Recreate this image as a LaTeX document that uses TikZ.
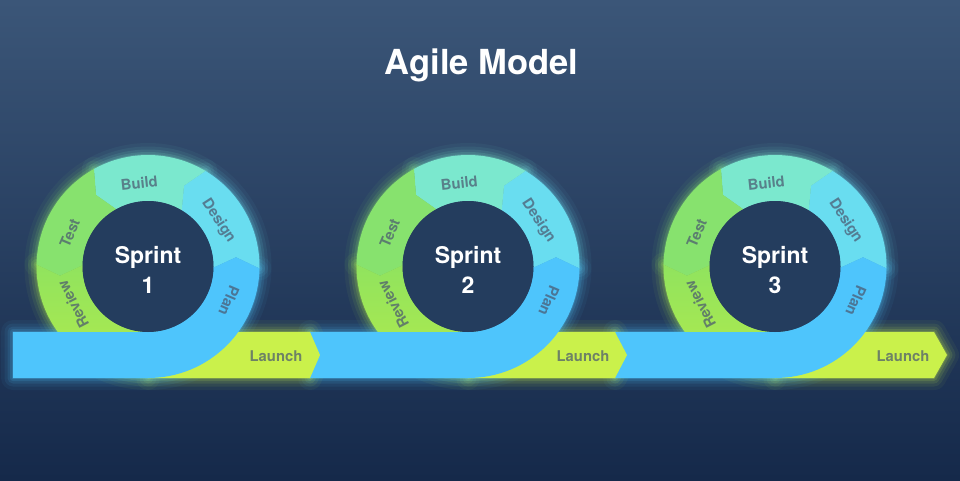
\documentclass[tikz,border=0pt]{standalone}
\usepackage{fontspec}
\setmainfont{TeX Gyre Heros}
\pgfdeclarelayer{bg}
\pgfdeclarelayer{glowlayer}
\pgfsetlayers{bg,glowlayer,main}
\definecolor{bgtop}{HTML}{3B5678}
\definecolor{bgbot}{HTML}{15294A}
\definecolor{buildc}{HTML}{7BE8CE}
\definecolor{designc}{HTML}{69DDF0}
\definecolor{planc}{HTML}{4EC5FC}
\definecolor{testc}{HTML}{87E26E}
\definecolor{reviewtop}{HTML}{90E35E}
\definecolor{reviewbot}{HTML}{B2EB4C}
\definecolor{launchc}{HTML}{CAF14B}
\definecolor{innerc}{HTML}{243D5E}
\definecolor{labc}{RGB}{75,88,112}
\tikzset{
  titletext/.style={font=\bfseries\fontsize{34.5}{40}\selectfont, text=white, inner sep=0, anchor=base},
  sprinttext/.style={font=\bfseries\fontsize{23}{28}\selectfont, text=white, inner sep=0, anchor=base},
  lab/.style={font=\bfseries\fontsize{14.8}{18}\selectfont, text=labc, text opacity=0.72, inner sep=0},
}
% ring segment from angle #1 to #2 with a tip at the leading edge and a notch at the trailing edge
\newcommand\segpath[2]{([shift={(#1:111.5)}]C) arc[start angle=#1, end angle=#2, radius=111.5] -- ([shift={(#2+7:88.5)}]C) -- ([shift={(#2:65.5)}]C) arc[start angle=#2, end angle=#1, radius=65.5] -- ([shift={(#1+7:88.5)}]C) -- cycle}
\newcommand\reviewpath{([shift={(179:111.5)}]C) arc[start angle=179, end angle=270, radius=111.5] -- ([shift={(270:65.5)}]C) arc[start angle=270, end angle=179, radius=65.5] -- ([shift={(186:88.5)}]C) -- cycle}
\newcommand\planpath[2]{(#1,148) -- (#2,148) arc[start angle=-90, end angle=-1, radius=65.5] -- ([shift={(6:88.5)}]C) -- ([shift={(-1:111.5)}]C) arc[start angle=-1, end angle=-90, radius=111.5] -- (#1,102) -- cycle}
\newcommand\launchpath[3]{(#1,148) -- (#2,148) -- (#3,125) -- (#2,102) -- (#1,102) -- cycle}
\newcommand\glowdraw[2]{\foreach \gw/\go in {24/0.05,17/0.08,11/0.11,6/0.15,2/0.2}{\draw[draw=#1, line width=\gw pt, draw opacity=\go, line join=round] #2;}}
\begin{document}
\begin{tikzpicture}[x=1pt,y=1pt]
\begin{pgfonlayer}{bg}
  \shade[top color=bgtop, bottom color=bgbot] (0,0) rectangle (960,480);
\end{pgfonlayer}
\useasboundingbox (0,0) rectangle (960,480);
\node[titletext] (title) at (481.5,405.7) {Agile Model};
\foreach \cx/\xs/\xt/\tip/\n in {775/615/934/947/3, 468/310/615/627/2, 148/13/310/320/1} {
  \coordinate (C) at (\cx,213.5);
  \begin{pgfonlayer}{glowlayer}
    \glowdraw{designc}{\segpath{-1}{59}}
    \glowdraw{buildc}{\segpath{59}{119}}
    \glowdraw{testc}{\segpath{119}{179}}
    \glowdraw{reviewbot}{\reviewpath}
    \glowdraw{launchc}{\launchpath{\cx}{\xt}{\tip}}
    \glowdraw{planc}{\planpath{\xs}{\cx}}
  \end{pgfonlayer}
  \fill[designc] \segpath{-1}{59};
  \fill[buildc] \segpath{59}{119};
  \fill[testc] \segpath{119}{179};
  \shade[top color=reviewtop, bottom color=reviewbot] \reviewpath;
  \fill[launchc] \launchpath{\cx}{\xt}{\tip};
  \fill[planc] \planpath{\xs}{\cx};
  \fill[innerc] (C) circle[radius=65.5];
  \node[sprinttext] (sp\n) at (\cx,217) {Sprint};
  \node[sprinttext] (num\n) at (\cx,187) {\n};
  \node[lab, rotate=6] (build\n) at ([shift={(96:84)}]C) {Build};
  \node[lab, rotate=-57] (design\n) at ([shift={(33:84)}]C) {Design};
  \node[lab, rotate=-113] (plan\n) at ([shift={(-23:88)}]C) {Plan};
  \node[lab, rotate=67] (test\n) at ([shift={(157:85)}]C) {Test};
  \node[lab, rotate=117] (review\n) at ([shift={(207:84)}]C) {Review};
  \node[lab] (launch\n) at (\tip-44,124) {Launch};
}
\end{tikzpicture}
\end{document}
